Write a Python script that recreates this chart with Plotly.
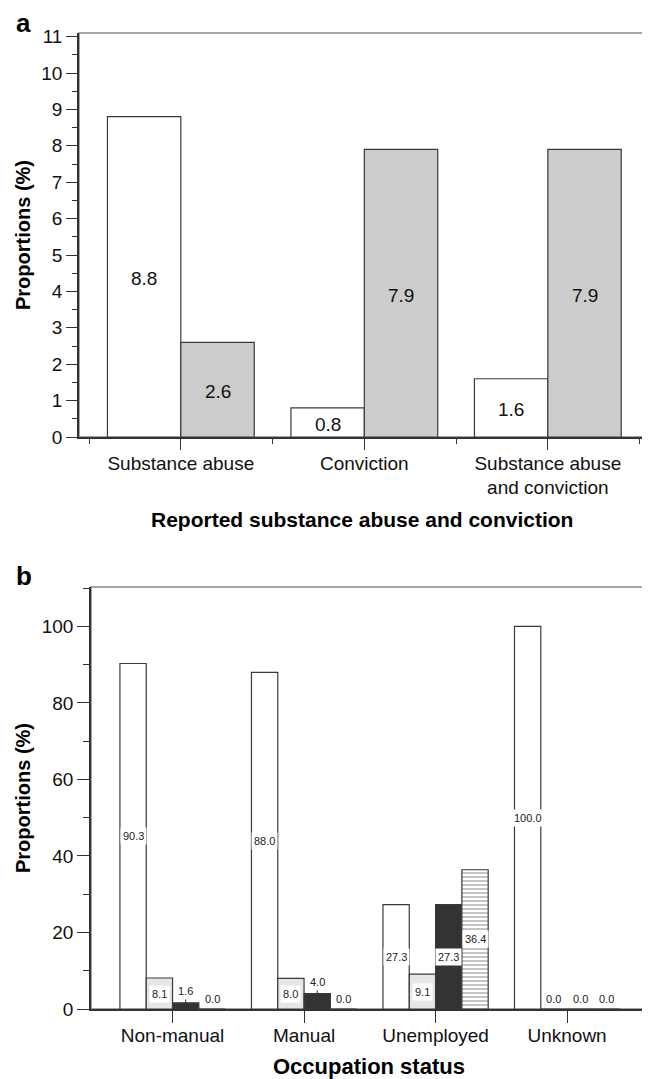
import plotly.graph_objects as go

# ---------------- data ----------------
cats_a = ["Substance abuse", "Conviction", "Substance abuse<br>and conviction"]
a_white = [8.8, 0.8, 1.6]
a_grey = [2.6, 7.9, 7.9]

cats_b = ["Non-manual", "Manual", "Unemployed", "Unknown"]
b_s1 = [90.3, 88.0, 27.3, 100.0]
b_s2 = [8.1, 8.0, 9.1, 0.0]
b_s3 = [1.6, 4.0, 27.3, 0.0]
b_s4 = [0.0, 0.0, 36.4, 0.0]

yticks_a = list(range(0, 12))
yticks_b = [0, 20, 40, 60, 80, 100]

FONT = "Liberation Sans, Arial, sans-serif"
EDGE = "#3a3a3a"
BARGAP = 0.2

# the page body has an 8px default margin; work in page pixels and shift
OFF = 8
W, H = 650 - OFF, 1079 - OFF


def fx(px):
    return (px - OFF) / W


def fy(px):
    return 1 - (px - OFF) / H


fig = go.Figure()

xa = list(range(len(cats_a)))
xb = list(range(len(cats_b)))

# panel a bars
fig.add_trace(go.Bar(x=xa, y=a_white, xaxis="x", yaxis="y",
                     marker=dict(color="white", line=dict(color=EDGE, width=1.2)),
                     showlegend=False, hoverinfo="skip"))
fig.add_trace(go.Bar(x=xa, y=a_grey, xaxis="x", yaxis="y",
                     marker=dict(color="#cccccc", line=dict(color=EDGE, width=1.2)),
                     showlegend=False, hoverinfo="skip"))

# panel b bars
b_series = [b_s1, b_s2, b_s3, b_s4]
b_styles = [
    dict(color="white"),
    dict(color="#e6e6e6"),
    dict(color="#333333"),
    dict(color="white", pattern=dict(shape="-", size=4, solidity=0.35,
                                     fgcolor="#555555", bgcolor="white")),
]
for vals, st in zip(b_series, b_styles):
    fig.add_trace(go.Bar(x=xb, y=vals, xaxis="x2", yaxis="y2",
                         marker=dict(line=dict(color=EDGE, width=1.2), **st),
                         showlegend=False, hoverinfo="skip"))


def offsets(n):
    w = 1 - BARGAP
    return [-w / 2 + (j + 0.5) * w / n for j in range(n)]


annotations = []
# panel a labels (middle of bars)
for j, vals in enumerate([a_white, a_grey]):
    off = offsets(2)[j]
    for i, v in enumerate(vals):
        annotations.append(dict(x=i + off, y=v / 2, xref="x", yref="y",
                                xanchor="center", yanchor="middle",
                                text=f"{v:.1f}", showarrow=False, yshift=-2,
                                font=dict(family=FONT, size=19, color="#111")))

# panel b labels
for j, vals in enumerate(b_series):
    off = offsets(4)[j]
    for i, v in enumerate(vals):
        base = dict(x=i + off, xref="x2", yref="y2", text=f"{v:.1f}",
                    xanchor="center",
                    font=dict(family=FONT, size=11, color="#222"),
                    bgcolor="white", borderpad=2)
        if v >= 8:
            base.update(y=v / 2, yanchor="middle", showarrow=False)
        elif v > 0:
            base.update(y=v, showarrow=True, ax=0, ay=-12, arrowhead=0,
                        arrowwidth=1, arrowcolor="#333", standoff=0)
        else:
            base.update(y=0, yanchor="bottom", showarrow=False, yshift=1,
                        bgcolor="rgba(0,0,0,0)")
        annotations.append(base)

# panel letters and axis titles
title_font = dict(family=FONT, size=20, color="black")
annotations += [
    dict(x=fx(15), y=fy(23), xref="paper", yref="paper", text="<b>a</b>",
         showarrow=False, xanchor="left", yanchor="middle", borderpad=0,
         font=dict(family=FONT, size=26, color="black")),
    dict(x=fx(15), y=fy(576), xref="paper", yref="paper", text="<b>b</b>",
         showarrow=False, xanchor="left", yanchor="middle", borderpad=0,
         font=dict(family=FONT, size=26, color="black")),
    dict(x=fx(23), y=fy(235), xref="paper", yref="paper", text="<b>Proportions (%)</b>",
         textangle=-90, showarrow=False, xanchor="center", yanchor="middle",
         font=title_font),
    dict(x=fx(23), y=fy(798), xref="paper", yref="paper", text="<b>Proportions (%)</b>",
         textangle=-90, showarrow=False, xanchor="center", yanchor="middle",
         font=title_font),
    dict(x=fx(362), y=fy(519), xref="paper", yref="paper",
         text="<b>Reported substance abuse and conviction</b>",
         showarrow=False, xanchor="center", yanchor="middle",
         font=dict(family=FONT, size=21, color="black")),
    dict(x=fx(369), y=fy(1066), xref="paper", yref="paper",
         text="<b>Occupation status</b>",
         showarrow=False, xanchor="center", yanchor="middle",
         font=dict(family=FONT, size=22, color="black")),
]

shapes = [
    dict(type="rect", xref="x domain", yref="y domain", x0=0, x1=1, y0=0, y1=1,
         line=dict(color="#888888", width=1.5), layer="below"),
    dict(type="rect", xref="x2 domain", yref="y2 domain", x0=0, x1=1, y0=0, y1=1,
         line=dict(color="#888888", width=1.5), layer="below"),
]

axis_common = dict(showgrid=False, zeroline=False, showline=True, linecolor="#333333",
                   linewidth=1.5, ticks="outside", tickcolor="#333333", tickwidth=1.2,
                   tickfont=dict(family=FONT, size=19, color="#111"))

fig.update_layout(
    width=W, height=H,
    margin=dict(l=0, r=0, t=0, b=0),
    paper_bgcolor="white", plot_bgcolor="white",
    barmode="group", bargap=BARGAP, bargroupgap=0,
    xaxis=dict(domain=[fx(79), fx(646)], range=[-0.555, 2.535],
               tickmode="array", tickvals=xa, ticktext=cats_a, ticklen=11,
               ticklabelstandoff=-3,
               minor=dict(tick0=0.5, dtick=1, ticks="outside", ticklen=5,
                          tickcolor="#333333", showgrid=False),
               anchor="y", automargin=False, **axis_common),
    yaxis=dict(domain=[fy(437), fy(33)], range=[0, 11.1],
               tickmode="array", tickvals=yticks_a, ticklen=11,
               minor=dict(dtick=0.5, ticks="outside", ticklen=5,
                          tickcolor="#333333", showgrid=False),
               anchor="x", automargin=False, **axis_common),
    xaxis2=dict(domain=[fx(91), fx(646)], range=[-0.62, 3.6],
                tickmode="array", tickvals=xb, ticktext=cats_b, ticklen=12,
                ticklabelstandoff=-4,
                anchor="y2", automargin=False, **axis_common),
    yaxis2=dict(domain=[fy(1009), fy(587)], range=[0, 110.3],
                tickmode="array", tickvals=yticks_b, ticklen=12,
                minor=dict(dtick=10, ticks="outside", ticklen=6,
                           tickcolor="#333333", showgrid=False),
                anchor="x2", automargin=False, **axis_common),
    annotations=annotations,
    shapes=shapes,
)

fig.write_html("out.html")
